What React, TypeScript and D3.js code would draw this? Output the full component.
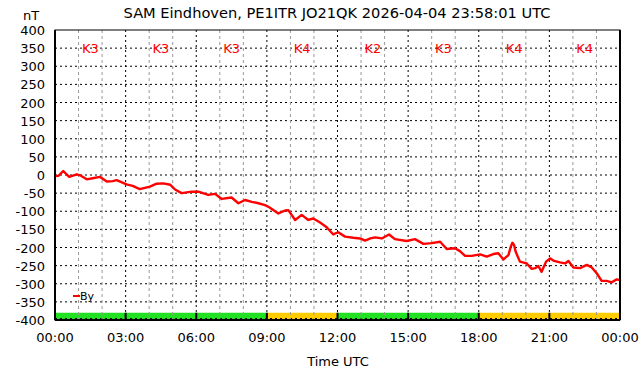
import React from "react";
import * as d3 from "d3";

const hours = [0.0,0.15,0.35,0.6,0.92,1.1,1.35,1.6,1.9,2.2,2.45,2.62,3.04,3.3,3.6,4.03,4.32,4.6,4.9,5.1,5.38,5.8,6.09,6.51,6.8,7.08,7.5,7.79,8.07,8.36,8.64,8.92,9.1,9.49,9.77,9.91,10.2,10.48,10.76,10.97,11.26,11.54,11.82,12.03,12.32,12.67,12.96,13.17,13.4,13.6,13.88,14.19,14.44,14.94,15.29,15.65,16.0,16.36,16.64,16.99,17.2,17.42,17.7,18.06,18.34,18.62,18.83,19.05,19.26,19.36,19.43,19.5,19.57,19.75,20.04,20.25,20.39,20.53,20.67,20.86,21.03,21.2,21.45,21.67,21.81,22.02,22.3,22.59,22.8,23.01,23.22,23.43,23.65,23.86,24.0];
const byValues = [-3,-2,11,-5,2,-2,-12,-9,-5,-18,-17,-14,-26,-30,-39,-32,-24,-23,-27,-40,-50,-46,-46,-55,-52,-66,-62,-78,-69,-74,-78,-83,-89,-106,-98,-97,-124,-110,-124,-120,-131,-144,-164,-158,-170,-173,-175,-181,-175,-172,-175,-164,-177,-182,-177,-190,-188,-184,-204,-202,-210,-223,-223,-219,-225,-218,-216,-233,-221,-198,-187,-193,-212,-239,-244,-259,-257,-251,-267,-239,-230,-237,-241,-244,-237,-255,-257,-248,-255,-271,-292,-292,-296,-288,-290];

const kStarts = [0, 3, 6, 9, 12, 15, 18, 21];
const kValues = [3, 3, 3, 4, 2, 3, 4, 4];
const xTickLabels = ["00:00","03:00","06:00","09:00","12:00","15:00","18:00","21:00","00:00"];
const yTicks = d3.range(-400, 401, 50);

const W = 642, H = 376;
const L = 55, R = 620, T = 30, B = 320;
const FONT = "DejaVu Sans, sans-serif";

export default function App() {
  const x = d3.scaleLinear().domain([0, 24]).range([L, R]);
  const y = d3.scaleLinear().domain([-400, 400]).range([B, T]);
  const line = d3.line<number>().x((_, i) => x(hours[i])).y((d) => y(d)).curve(d3.curveLinear);
  const minorHours = d3.range(1, 24).filter((h) => h % 3 !== 0);
  const majorHours = d3.range(3, 24, 3);

  return (
    <svg width={W} height={H} style={{ position: "absolute", left: 0, top: 0, background: "#fff" }} fontFamily={FONT}>
      <rect x={0} y={0} width={W} height={H} fill="#fff" />
      {kStarts.map((s, i) => (
        <rect key={"kb" + i} x={x(s)} y={y(-380)} width={x(s + 3) - x(s)} height={y(-400) - y(-380)}
          fill={kValues[i] >= 4 ? "#ffcc00" : "#22e022"} />
      ))}
      {yTicks.slice(1, -1).map((v) => (
        <line key={"hg" + v} x1={L} x2={R} y1={y(v)} y2={y(v)} stroke="#000" strokeWidth={1} strokeDasharray="2,3" />
      ))}
      <line x1={L} x2={R} y1={y(-396)} y2={y(-396)} stroke="#000" strokeWidth={1} strokeDasharray="2,3" />
      {minorHours.map((h) => (
        <line key={"mg" + h} x1={x(h)} x2={x(h)} y1={T} y2={B} stroke="#999" strokeWidth={1} strokeDasharray="3,3" />
      ))}
      {majorHours.map((h) => (
        <g key={"Mg" + h}>
          <line x1={x(h)} x2={x(h)} y1={T} y2={y(-380)} stroke="#000" strokeWidth={1} strokeDasharray="2,3" />
          <line x1={x(h)} x2={x(h)} y1={y(-380)} y2={B} stroke="#000" strokeWidth={2} />
        </g>
      ))}
      {kStarts.map((s, i) => (
        <text key={"kl" + i} x={x(s + 1.5)} y={y(350) + 5} fill="#ff0000" fontSize={13} textAnchor="middle">
          {"K" + kValues[i]}
        </text>
      ))}
      <path d={line(byValues) || ""} fill="none" stroke="#ff0000" strokeWidth={2.4} strokeLinejoin="round" strokeLinecap="round" />
      <rect x={L} y={T} width={R - L} height={B - T} fill="none" stroke="#000" strokeWidth={1} />
      <line x1={L} x2={L} y1={T} y2={B} stroke="#000" strokeWidth={2} />
      <line x1={R} x2={R} y1={T} y2={B} stroke="#000" strokeWidth={2} />
      <line x1={L} x2={R} y1={B} y2={B} stroke="#000" strokeWidth={2} />
      {yTicks.map((v) => (
        <text key={"yl" + v} x={45} y={y(v) + 5} fontSize={13} textAnchor="end" fill="#000">{v}</text>
      ))}
      {xTickLabels.map((t, i) => (
        <text key={"xl" + i} x={x(i * 3)} y={342} fontSize={13} textAnchor="middle" fill="#000">{t}</text>
      ))}
      <line x1={73} x2={80} y1={296} y2={296} stroke="#ff0000" strokeWidth={2} />
      <text x={80} y={300} fontSize={11} fill="#000">By</text>
      <text x={337} y={18} fontSize={14.6} textAnchor="middle" fill="#000">SAM Eindhoven, PE1ITR JO21QK 2026-04-04 23:58:01 UTC</text>
      <text x={31} y={20} fontSize={13} textAnchor="middle" fill="#000">nT</text>
      <text x={338} y={366} fontSize={13} textAnchor="middle" fill="#000">Time UTC</text>
    </svg>
  );
}
